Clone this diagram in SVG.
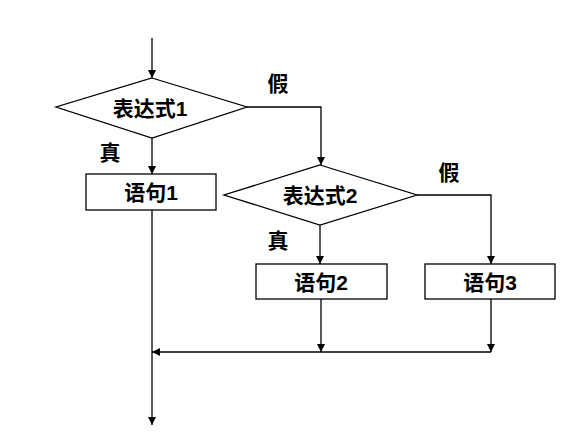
<svg xmlns="http://www.w3.org/2000/svg" width="582" height="438" viewBox="0 0 582 438">
<style>
.s{fill:#fff;stroke:#000;stroke-width:1.3}
.c{fill:none;stroke:#000;stroke-width:1.3}
text{font-family:"Liberation Sans","Noto Sans CJK SC",sans-serif;font-weight:bold;font-size:21px;fill:#000}
.m{text-anchor:middle;dominant-baseline:central}
</style>
<defs>
<marker id="a" viewBox="0 0 10 10" refX="10" refY="5" markerWidth="8" markerHeight="8" markerUnits="userSpaceOnUse" orient="auto">
<path d="M0,0L10,5L0,10z" fill="#000"/>
</marker>
</defs>
<rect width="582" height="438" fill="#fff"/>
<g id="connectors">
<path class="c" d="M152,38V78" marker-end="url(#a)"/>
<path class="c" d="M152,138V174" marker-end="url(#a)"/>
<path class="c" d="M247,107H321V165" marker-end="url(#a)"/>
<path class="c" d="M320,225V264" marker-end="url(#a)"/>
<path class="c" d="M417,195H491V264" marker-end="url(#a)"/>
<path class="c" d="M321,299V352" marker-end="url(#a)"/>
<path class="c" d="M491,299V352" marker-end="url(#a)"/>
<path class="c" d="M491,352H152" marker-end="url(#a)"/>
<path class="c" d="M152,210V425" marker-end="url(#a)"/>
</g>
<g id="cond1">
<polygon class="s" points="152,78 247,107 152,138 56,107"/>
<text class="m" x="150" y="108">表达式1</text>
</g>
<g id="stmt1">
<rect class="s" x="86" y="174" width="130" height="36"/>
<text class="m" x="151" y="192">语句1</text>
</g>
<g id="cond2">
<polygon class="s" points="320,165 417,195 320,225 224,195"/>
<text class="m" x="320" y="195">表达式2</text>
</g>
<g id="stmt2">
<rect class="s" x="256" y="264" width="131" height="35"/>
<text class="m" x="321" y="282">语句2</text>
</g>
<g id="stmt3">
<rect class="s" x="425" y="264" width="130" height="35"/>
<text class="m" x="490" y="282">语句3</text>
</g>
<g id="labels">
<text class="m" x="278" y="83">假</text>
<text class="m" x="110" y="152">真</text>
<text class="m" x="449" y="172">假</text>
<text class="m" x="278" y="240">真</text>
</g>
</svg>
